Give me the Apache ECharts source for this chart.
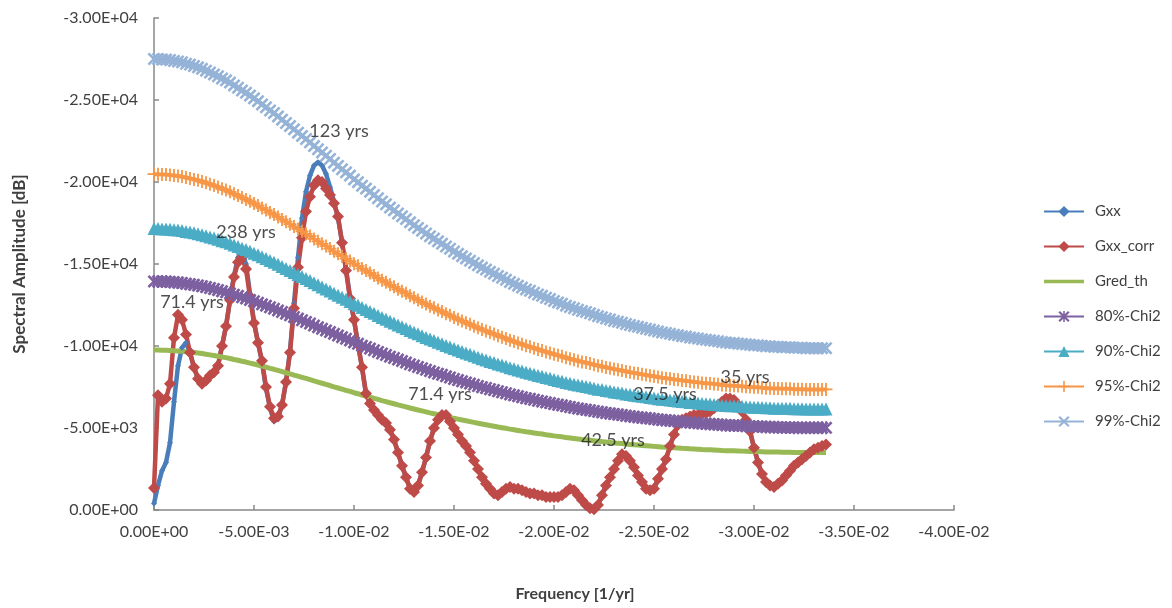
<!DOCTYPE html>
<html>
<head>
<meta charset="utf-8">
<script src="https://cdn.jsdelivr.net/npm/echarts@6/dist/echarts.min.js"></script>
<style>html,body{margin:0;padding:0;background:#fff;}#c{width:1172px;height:608px;}</style>
</head>
<body>
<div id="c"></div>
<script>
const freq = [0,-0.0002,-0.0004,-0.0006,-0.0008,-0.001,-0.0012,-0.0014,-0.0016,-0.0018,
-0.002,-0.0022,-0.0024,-0.0026,-0.0028,-0.003,-0.0032,-0.0034,-0.0036,-0.0038,
-0.004,-0.0042,-0.0044,-0.0046,-0.0048,-0.005,-0.0052,-0.0054,-0.0056,-0.0058,
-0.006,-0.0062,-0.0064,-0.0066,-0.0068,-0.007,-0.0072,-0.0074,-0.0076,-0.0078,
-0.008,-0.0082,-0.0084,-0.0086,-0.0088,-0.009,-0.0092,-0.0094,-0.0096,-0.0098,
-0.01,-0.0102,-0.0104,-0.0106,-0.0108,-0.011,-0.0112,-0.0114,-0.0116,-0.0118,
-0.012,-0.0122,-0.0124,-0.0126,-0.0128,-0.013,-0.0132,-0.0134,-0.0136,-0.0138,
-0.014,-0.0142,-0.0144,-0.0146,-0.0148,-0.015,-0.0152,-0.0154,-0.0156,-0.0158,
-0.016,-0.0162,-0.0164,-0.0166,-0.0168,-0.017,-0.0172,-0.0174,-0.0176,-0.0178,
-0.018,-0.0182,-0.0184,-0.0186,-0.0188,-0.019,-0.0192,-0.0194,-0.0196,-0.0198,
-0.02,-0.0202,-0.0204,-0.0206,-0.0208,-0.021,-0.0212,-0.0214,-0.0216,-0.0218,
-0.022,-0.0222,-0.0224,-0.0226,-0.0228,-0.023,-0.0232,-0.0234,-0.0236,-0.0238,
-0.024,-0.0242,-0.0244,-0.0246,-0.0248,-0.025,-0.0252,-0.0254,-0.0256,-0.0258,
-0.026,-0.0262,-0.0264,-0.0266,-0.0268,-0.027,-0.0272,-0.0274,-0.0276,-0.0278,
-0.028,-0.0282,-0.0284,-0.0286,-0.0288,-0.029,-0.0292,-0.0294,-0.0296,-0.0298,
-0.03,-0.0302,-0.0304,-0.0306,-0.0308,-0.031,-0.0312,-0.0314,-0.0316,-0.0318,
-0.032,-0.0322,-0.0324,-0.0326,-0.0328,-0.033,-0.0332,-0.0334,-0.0336];

const gxx = [-400,-1500,-2400,-2900,-4100,-6600,-8800,-9900,-10200,-9600,
-8700,-8000,-7700,-7900,-8200,-8400,-8800,-10000,-11200,-12800,
-14300,-15400,-15700,-15000,-13200,-11500,-10200,-9000,-7400,-6200,
-5400,-5600,-6400,-7800,-9700,-12600,-15400,-17800,-19400,-20400,
-21000,-21200,-21000,-20500,-19700,-18800,-17800,-16400,-14700,-13000,
-11600,-10100,-8700,-7100,-6500,-6100,-5800,-5500,-5300,-4900,
-4300,-3500,-2700,-2000,-1300,-1100,-1500,-2300,-3200,-4200,
-5000,-5500,-5800,-5800,-5400,-5000,-4600,-4200,-3900,-3500,
-3000,-2500,-2000,-1600,-1300,-1000,-900,-1100,-1300,-1400,
-1300,-1300,-1200,-1100,-1000,-1000,-900,-900,-800,-800,
-800,-800,-900,-1100,-1300,-1200,-900,-600,-300,-100,
-50,-300,-900,-1500,-2000,-2500,-3000,-3400,-3300,-3000,
-2600,-2100,-1700,-1300,-1200,-1300,-1900,-2500,-3100,-3900,
-4600,-5200,-5500,-5600,-5700,-5800,-5800,-5900,-5900,-6000,
-6200,-6400,-6600,-6800,-6800,-6700,-6400,-6000,-5500,-4800,
-3800,-2900,-2200,-1700,-1500,-1400,-1600,-1800,-2100,-2400,
-2700,-2900,-3100,-3300,-3500,-3700,-3800,-3900,-4000];

const gxxCorr = [-1340,-7000,-6600,-6800,-7700,-10500,-11900,-11600,-10700,-9600,
-8700,-8000,-7700,-7900,-8200,-8400,-8800,-10000,-11200,-12800,
-14200,-15100,-15400,-14700,-13000,-11400,-10200,-9100,-7500,-6300,
-5600,-5700,-6400,-7800,-9600,-12300,-14800,-16600,-18200,-19100,
-19800,-20100,-20000,-19600,-19200,-18700,-17900,-16300,-14600,-12900,
-11600,-10100,-8700,-7100,-6500,-6100,-5800,-5500,-5300,-4900,
-4300,-3500,-2700,-2000,-1300,-1100,-1500,-2300,-3200,-4200,
-5000,-5500,-5800,-5800,-5400,-5000,-4600,-4200,-3900,-3500,
-3000,-2500,-2000,-1600,-1300,-1000,-900,-1100,-1300,-1400,
-1300,-1300,-1200,-1100,-1000,-1000,-900,-900,-800,-800,
-800,-800,-900,-1100,-1300,-1200,-900,-600,-300,-100,
-50,-300,-900,-1500,-2000,-2500,-3000,-3400,-3300,-3000,
-2600,-2100,-1700,-1300,-1200,-1300,-1900,-2500,-3100,-3900,
-4600,-5200,-5500,-5600,-5700,-5800,-5800,-5900,-5900,-6000,
-6200,-6400,-6600,-6800,-6800,-6700,-6400,-6000,-5500,-4800,
-3800,-2900,-2200,-1700,-1500,-1400,-1600,-1800,-2100,-2400,
-2700,-2900,-3100,-3300,-3500,-3700,-3800,-3900,-4000];

const gredTh = [-9750,-9750,-9740,-9740,-9730,-9710,-9700,-9680,-9650,-9630,
-9600,-9570,-9540,-9500,-9460,-9420,-9380,-9330,-9290,-9240,
-9180,-9130,-9070,-9020,-8960,-8900,-8840,-8770,-8710,-8640,
-8580,-8510,-8440,-8370,-8300,-8230,-8160,-8090,-8020,-7950,
-7870,-7800,-7730,-7660,-7590,-7510,-7440,-7370,-7300,-7230,
-7150,-7090,-7010,-6950,-6880,-6810,-6740,-6670,-6610,-6540,
-6480,-6410,-6350,-6290,-6220,-6160,-6100,-6040,-5980,-5920,
-5870,-5810,-5760,-5700,-5650,-5590,-5540,-5490,-5440,-5390,
-5340,-5290,-5240,-5200,-5150,-5110,-5060,-5020,-4980,-4930,
-4890,-4850,-4810,-4770,-4740,-4700,-4660,-4630,-4590,-4560,
-4520,-4490,-4460,-4420,-4390,-4360,-4330,-4300,-4280,-4250,
-4220,-4190,-4170,-4140,-4120,-4090,-4070,-4050,-4020,-4000,
-3980,-3960,-3940,-3920,-3900,-3880,-3860,-3840,-3830,-3810,
-3790,-3780,-3760,-3750,-3730,-3720,-3710,-3690,-3680,-3670,
-3660,-3650,-3630,-3620,-3610,-3610,-3600,-3590,-3580,-3570,
-3560,-3560,-3550,-3540,-3540,-3530,-3530,-3520,-3520,-3520,
-3510,-3510,-3510,-3500,-3500,-3500,-3500,-3500,-3500];

const chi80 = [-13940,-13940,-13930,-13930,-13910,-13890,-13870,-13840,-13800,-13770,
-13730,-13690,-13640,-13590,-13530,-13470,-13410,-13340,-13280,-13210,
-13130,-13060,-12970,-12900,-12810,-12730,-12640,-12540,-12460,-12360,
-12270,-12170,-12070,-11970,-11870,-11770,-11670,-11570,-11470,-11370,
-11250,-11150,-11050,-10950,-10850,-10740,-10640,-10540,-10440,-10340,
-10220,-10140,-10020,-9940,-9840,-9740,-9640,-9540,-9450,-9350,
-9270,-9170,-9080,-8990,-8890,-8810,-8720,-8640,-8550,-8470,
-8390,-8310,-8240,-8150,-8080,-7990,-7920,-7850,-7780,-7710,
-7640,-7560,-7490,-7440,-7360,-7310,-7240,-7180,-7120,-7050,
-6990,-6940,-6880,-6820,-6780,-6720,-6660,-6620,-6560,-6520,
-6460,-6420,-6380,-6320,-6280,-6230,-6190,-6150,-6120,-6080,
-6030,-5990,-5960,-5920,-5890,-5850,-5820,-5790,-5750,-5720,
-5690,-5660,-5630,-5610,-5580,-5550,-5520,-5490,-5480,-5450,
-5420,-5410,-5380,-5360,-5330,-5320,-5310,-5280,-5260,-5250,
-5230,-5220,-5190,-5180,-5160,-5160,-5150,-5130,-5120,-5110,
-5090,-5090,-5080,-5060,-5060,-5050,-5050,-5030,-5030,-5030,
-5020,-5020,-5020,-5010,-5010,-5010,-5010,-5010,-5010];

const chi90 = [-17160,-17160,-17140,-17140,-17120,-17090,-17070,-17040,-16980,-16950,
-16900,-16840,-16790,-16720,-16650,-16580,-16510,-16420,-16350,-16260,
-16160,-16070,-15960,-15880,-15770,-15660,-15560,-15440,-15330,-15210,
-15100,-14980,-14850,-14730,-14610,-14480,-14360,-14240,-14120,-13990,
-13850,-13730,-13600,-13480,-13360,-13220,-13090,-12970,-12850,-12720,
-12580,-12480,-12340,-12230,-12110,-11990,-11860,-11740,-11630,-11510,
-11400,-11280,-11180,-11070,-10950,-10840,-10740,-10630,-10520,-10420,
-10330,-10230,-10140,-10030,-9940,-9840,-9750,-9660,-9570,-9490,
-9400,-9310,-9220,-9150,-9060,-8990,-8910,-8840,-8760,-8680,
-8610,-8540,-8470,-8400,-8340,-8270,-8200,-8150,-8080,-8030,
-7960,-7900,-7850,-7780,-7730,-7670,-7620,-7570,-7530,-7480,
-7430,-7370,-7340,-7290,-7250,-7200,-7160,-7130,-7080,-7040,
-7000,-6970,-6930,-6900,-6860,-6830,-6790,-6760,-6740,-6710,
-6670,-6650,-6620,-6600,-6560,-6550,-6530,-6490,-6480,-6460,
-6440,-6420,-6390,-6370,-6350,-6350,-6340,-6320,-6300,-6280,
-6270,-6270,-6250,-6230,-6230,-6210,-6210,-6200,-6200,-6200,
-6180,-6180,-6180,-6160,-6160,-6160,-6160,-6160,-6160];

const chi95 = [-20480,-20480,-20450,-20450,-20430,-20390,-20370,-20330,-20270,-20220,
-20160,-20100,-20030,-19950,-19870,-19780,-19700,-19590,-19510,-19400,
-19280,-19170,-19050,-18940,-18820,-18690,-18560,-18420,-18290,-18140,
-18020,-17870,-17720,-17580,-17430,-17280,-17140,-16990,-16840,-16700,
-16530,-16380,-16230,-16090,-15940,-15770,-15620,-15480,-15330,-15180,
-15020,-14890,-14720,-14600,-14450,-14300,-14150,-14010,-13880,-13730,
-13610,-13460,-13340,-13210,-13060,-12940,-12810,-12680,-12560,-12430,
-12330,-12200,-12100,-11970,-11870,-11740,-11630,-11530,-11420,-11320,
-11210,-11110,-11000,-10920,-10820,-10730,-10630,-10540,-10460,-10350,
-10270,-10190,-10100,-10020,-9950,-9870,-9790,-9720,-9640,-9580,
-9490,-9430,-9370,-9280,-9220,-9160,-9090,-9030,-8990,-8930,
-8860,-8800,-8760,-8690,-8650,-8590,-8550,-8510,-8440,-8400,
-8360,-8320,-8270,-8230,-8190,-8150,-8110,-8060,-8040,-8000,
-7960,-7940,-7900,-7880,-7830,-7810,-7790,-7750,-7730,-7710,
-7690,-7670,-7620,-7600,-7580,-7580,-7560,-7540,-7520,-7500,
-7480,-7480,-7460,-7430,-7430,-7410,-7410,-7390,-7390,-7390,
-7370,-7370,-7370,-7350,-7350,-7350,-7350,-7350,-7350];

const chi99 = [-27500,-27500,-27470,-27470,-27440,-27380,-27350,-27300,-27210,-27160,
-27070,-26990,-26900,-26790,-26680,-26560,-26450,-26310,-26200,-26060,
-25890,-25750,-25580,-25440,-25270,-25100,-24930,-24730,-24560,-24360,
-24200,-24000,-23800,-23600,-23410,-23210,-23010,-22810,-22620,-22420,
-22190,-22000,-21800,-21600,-21400,-21180,-20980,-20780,-20590,-20390,
-20160,-19990,-19770,-19600,-19400,-19200,-19010,-18810,-18640,-18440,
-18270,-18080,-17910,-17740,-17540,-17370,-17200,-17030,-16860,-16690,
-16550,-16380,-16240,-16070,-15930,-15760,-15620,-15480,-15340,-15200,
-15060,-14920,-14780,-14660,-14520,-14410,-14270,-14160,-14040,-13900,
-13790,-13680,-13560,-13450,-13370,-13250,-13140,-13060,-12940,-12860,
-12750,-12660,-12580,-12460,-12380,-12300,-12210,-12130,-12070,-11990,
-11900,-11820,-11760,-11670,-11620,-11530,-11480,-11420,-11340,-11280,
-11220,-11170,-11110,-11050,-11000,-10940,-10890,-10830,-10800,-10740,
-10690,-10660,-10600,-10580,-10520,-10490,-10460,-10410,-10380,-10350,
-10320,-10290,-10240,-10210,-10180,-10180,-10150,-10120,-10100,-10070,
-10040,-10040,-10010,-9980,-9980,-9950,-9950,-9930,-9930,-9930,
-9900,-9900,-9900,-9870,-9870,-9870,-9870,-9870,-9870];

const seriesNames = ['Gxx','Gxx_corr','Gred_th','80%-Chi2','90%-Chi2','95%-Chi2','99%-Chi2'];
const annoText = ['123 yrs','238 yrs','71.4 yrs','71.4 yrs','42.5 yrs','37.5 yrs','35 yrs'];
const annoX = [-0.00925,-0.0046,-0.0019,-0.0143,-0.02295,-0.02555,-0.02955];
const annoY = [-23100,-16950,-12680,-7070,-4270,-7070,-8110];

const FONT = 'Lato, "Liberation Sans", sans-serif';
function fmt(v){
  if (Math.abs(v) < 1e-12) return '0.00E+00';
  return v.toExponential(2).toUpperCase().replace(/E([+-])(\d+)$/, function(m, s, d){ return 'E' + s + (d.length < 2 ? '0' + d : d); });
}
function pairs(arr){ return freq.map(function(f, i){ return [f, arr[i]]; }); }

const X_SYM = 'path://M0,1.4 L1.4,0 L5,3.6 L8.6,0 L10,1.4 L6.4,5 L10,8.6 L8.6,10 L5,6.4 L1.4,10 L0,8.6 L3.6,5 Z';
const PLUS_SYM = 'path://M4.3,0 L5.7,0 L5.7,4.3 L10,4.3 L10,5.7 L5.7,5.7 L5.7,10 L4.3,10 L4.3,5.7 L0,5.7 L0,4.3 L4.3,4.3 Z';
const AST_SYM = 'path://M0,1.4 L1.4,0 L5,3.6 L8.6,0 L10,1.4 L6.4,5 L10,8.6 L8.6,10 L5,6.4 L1.4,10 L0,8.6 L3.6,5 Z M4.3,0 L5.7,0 L5.7,10 L4.3,10 Z';
const LINE_ICON = 'path://M0,0 L40,0 L40,0.01 Z M0,5.2 L40,5.2 L40,8.8 L0,8.8 Z M0,14 L40,14 L40,13.99 Z';

function lineSeries(name, arr, color, symbol, size, width){
  return {
    name: name, type: 'line', data: pairs(arr),
    symbol: symbol, symbolSize: size, showSymbol: symbol !== 'none',
    lineStyle: { color: color, width: width },
    itemStyle: { color: color },
    emphasis: { disabled: true }
  };
}

const legendData = seriesNames.map(function(n){
  return n === 'Gred_th' ? { name: n, icon: LINE_ICON } : { name: n };
});

const chart = echarts.init(document.getElementById('c'), null, { renderer: 'canvas' });
chart.setOption({
  animation: false,
  backgroundColor: '#ffffff',
  textStyle: { fontFamily: FONT },
  grid: { left: 154, top: 18, right: 218, bottom: 98, containLabel: false },
  legend: {
    data: legendData, orient: 'vertical', left: 1038, top: 199,
    itemWidth: 40, itemHeight: 14, itemGap: 20,
    textStyle: { fontFamily: FONT, fontSize: 15, color: '#404040', padding: [0, 0, 0, 6] }
  },
  xAxis: {
    type: 'value', min: -0.04, max: 0, interval: 0.005, inverse: true,
    name: 'Frequency [1/yr]', nameLocation: 'middle', nameGap: 76,
    nameTextStyle: { fontFamily: FONT, fontSize: 16, fontWeight: 'bold', color: '#404040', padding: [0, 0, 0, 42] },
    axisLine: { onZero: false, lineStyle: { color: '#888888', width: 1.5 } },
    axisTick: { inside: true, length: 5, lineStyle: { color: '#888888', width: 1.5 } },
    axisLabel: { formatter: fmt, fontFamily: FONT, fontSize: 16, color: '#404040', margin: 14 },
    splitLine: { show: false }
  },
  yAxis: {
    type: 'value', min: -30000, max: 0, interval: 5000, inverse: true,
    name: 'Spectral Amplitude [dB]', nameLocation: 'middle', nameGap: 126,
    nameTextStyle: { fontFamily: FONT, fontSize: 17, fontWeight: 'bold', color: '#404040' },
    axisLine: { onZero: false, lineStyle: { color: '#888888', width: 1.5 } },
    axisTick: { inside: true, length: 5, lineStyle: { color: '#888888', width: 1.5 } },
    axisLabel: { formatter: fmt, fontFamily: FONT, fontSize: 16, color: '#404040', margin: 16 },
    splitLine: { show: false }
  },
  series: [
    lineSeries('Gxx', gxx, '#4A7EBB', 'diamond', 6, 4.5),
    lineSeries('Gxx_corr', gxxCorr, '#BE4B48', 'diamond', 12, 4.5),
    lineSeries('Gred_th', gredTh, '#98B954', 'none', 0, 5),
    lineSeries('80%-Chi2', chi80, '#7D60A0', AST_SYM, 13, 4),
    lineSeries('90%-Chi2', chi90, '#4BACC6', 'triangle', 13, 4),
    lineSeries('95%-Chi2', chi95, '#F79646', PLUS_SYM, 13, 4),
    lineSeries('99%-Chi2', chi99, '#95B3D7', X_SYM, 13, 4),
    {
      name: 'labels', type: 'scatter', silent: true, z: 10,
      data: annoX.map(function(x, i){ return { value: [x, annoY[i]], name: annoText[i] }; }),
      symbolSize: 1, itemStyle: { color: 'rgba(0,0,0,0)' },
      label: { show: true, position: 'inside', formatter: '{b}', fontFamily: FONT, fontSize: 18, color: '#222222' }
    }
  ]
});
</script>
</body>
</html>
